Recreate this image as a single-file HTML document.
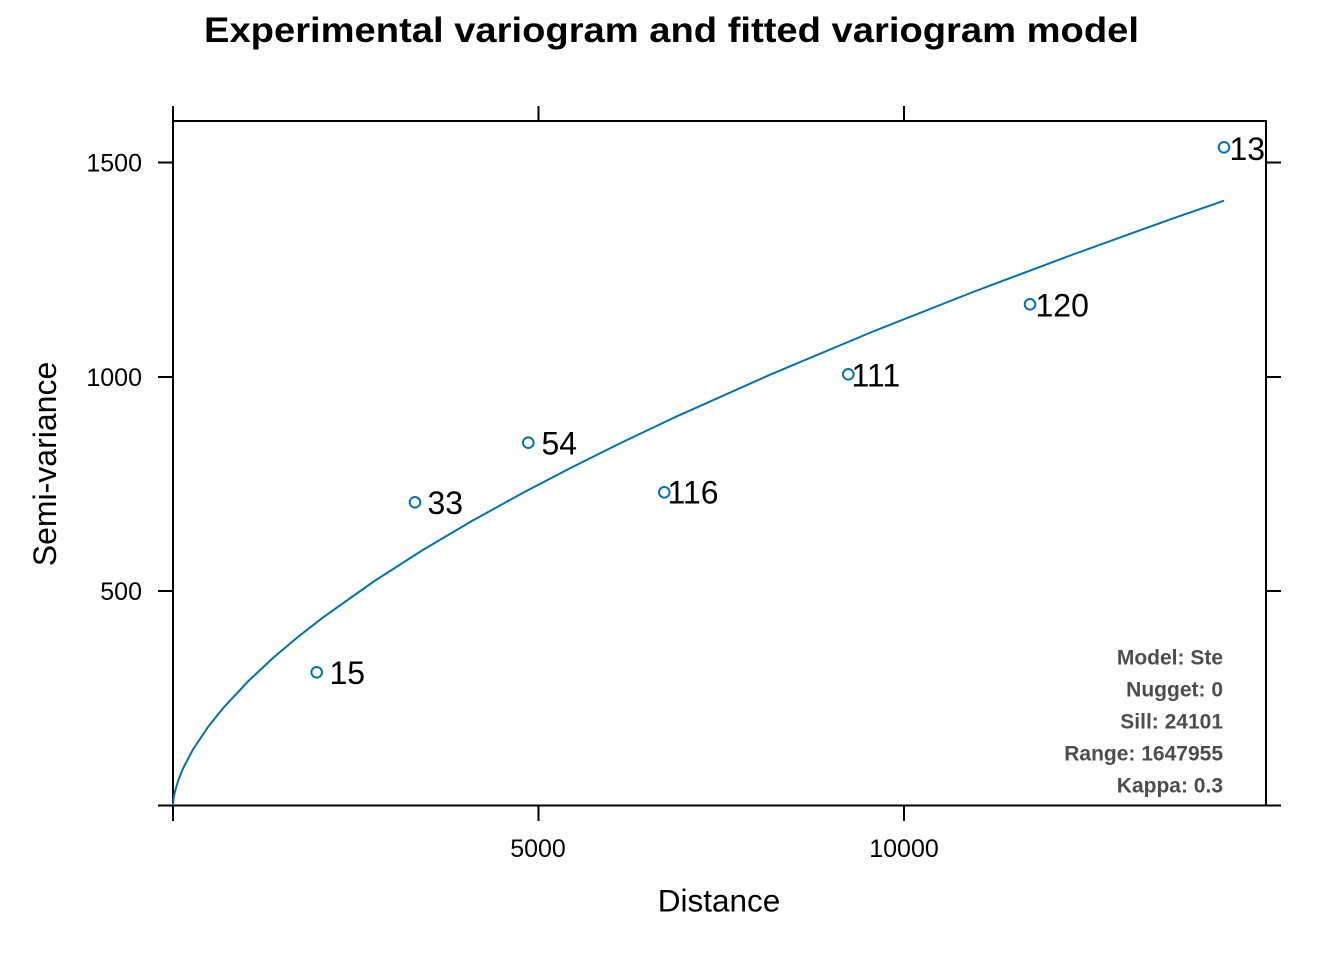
<!DOCTYPE html>
<html>
<head>
<meta charset="utf-8">
<style>
html,body{margin:0;padding:0;background:#fff;}
svg{display:block;}
text{font-family:"Liberation Sans",Arial,sans-serif;}
</style>
</head>
<body>
<svg width="1344" height="960" viewBox="0 0 1344 960" xmlns="http://www.w3.org/2000/svg">
<rect width="1344" height="960" fill="#fff"/>
<!-- Title -->
<text x="204" y="42" font-size="35" font-weight="bold" fill="#000" textLength="935" lengthAdjust="spacingAndGlyphs">Experimental variogram and fitted variogram model</text>

<!-- Frame -->
<rect x="173" y="121" width="1093" height="684.5" fill="none" stroke="#000" stroke-width="2"/>
<!-- ticks -->
<g stroke="#000" stroke-width="2">
  <line x1="173" y1="805.5" x2="173" y2="821"/>
  <line x1="538.5" y1="805.5" x2="538.5" y2="821"/>
  <line x1="904" y1="805.5" x2="904" y2="821"/>
  <line x1="173" y1="121" x2="173" y2="106"/>
  <line x1="538.5" y1="121" x2="538.5" y2="106"/>
  <line x1="904" y1="121" x2="904" y2="106"/>
  <line x1="158" y1="805.5" x2="173" y2="805.5"/>
  <line x1="158" y1="591" x2="173" y2="591"/>
  <line x1="158" y1="377" x2="173" y2="377"/>
  <line x1="158" y1="162.5" x2="173" y2="162.5"/>
  <line x1="1266" y1="805.5" x2="1281" y2="805.5"/>
  <line x1="1266" y1="591" x2="1281" y2="591"/>
  <line x1="1266" y1="377" x2="1281" y2="377"/>
  <line x1="1266" y1="162.5" x2="1281" y2="162.5"/>
</g>

<!-- tick labels -->
<g font-size="25" fill="#000">
  <text x="142" y="171.5" text-anchor="end">1500</text>
  <text x="142" y="386" text-anchor="end">1000</text>
  <text x="142" y="600" text-anchor="end">500</text>
  <text x="538" y="857" text-anchor="middle">5000</text>
  <text x="904" y="857" text-anchor="middle">10000</text>
</g>

<!-- axis labels -->
<text x="719" y="911.5" font-size="31.5" text-anchor="middle" fill="#000">Distance</text>
<text transform="translate(56,464) rotate(-90)" font-size="32" text-anchor="middle" fill="#000">Semi-variance</text>

<!-- fitted curve -->
<polyline fill="none" stroke="#0072B2" stroke-width="2" stroke-linejoin="round"
 points="173,805.5 173.2,802 173.5,799.4 174,796.2 175,791.4 178,781.1 183,768.5 193,749.4 208,727 223,708.2 248,681.4 273,658 298,636.9 323,617.4 373,582 423,549.9 473,520.4 523,492.8 573,466.7 623,441.9 673,418.1 773,373.4 873,331.5 973,292 1073,254.5 1173,218.4 1224,200.7"/>

<!-- points -->
<g fill="none" stroke="#0072B2" stroke-width="2">
  <circle cx="316.7" cy="672.3" r="5.3"/>
  <circle cx="415" cy="502.3" r="5.3"/>
  <circle cx="528.3" cy="442.7" r="5.3"/>
  <circle cx="664.3" cy="492.3" r="5.3"/>
  <circle cx="848.3" cy="374.3" r="5.3"/>
  <circle cx="1030" cy="304.3" r="5.3"/>
  <circle cx="1224" cy="147.3" r="5.3"/>
</g>

<!-- point labels -->
<g font-size="32" fill="#000">
  <text x="329.5" y="684">15</text>
  <text x="427.5" y="514">33</text>
  <text x="541.5" y="454.5">54</text>
  <text x="667.5" y="503.5">116</text>
  <text x="851.5" y="386.5">111</text>
  <text x="1035.5" y="316.5">120</text>
  <text x="1229.5" y="160">13</text>
</g>

<!-- legend text -->
<g font-size="21" font-weight="bold" fill="#4d4d4d" text-anchor="end">
  <text x="1223" y="664.3">Model: Ste</text>
  <text x="1223" y="696.3">Nugget: 0</text>
  <text x="1223" y="728.3">Sill: 24101</text>
  <text x="1223" y="760.3">Range: 1647955</text>
  <text x="1223" y="792.5">Kappa: 0.3</text>
</g>
</svg>
</body>
</html>
